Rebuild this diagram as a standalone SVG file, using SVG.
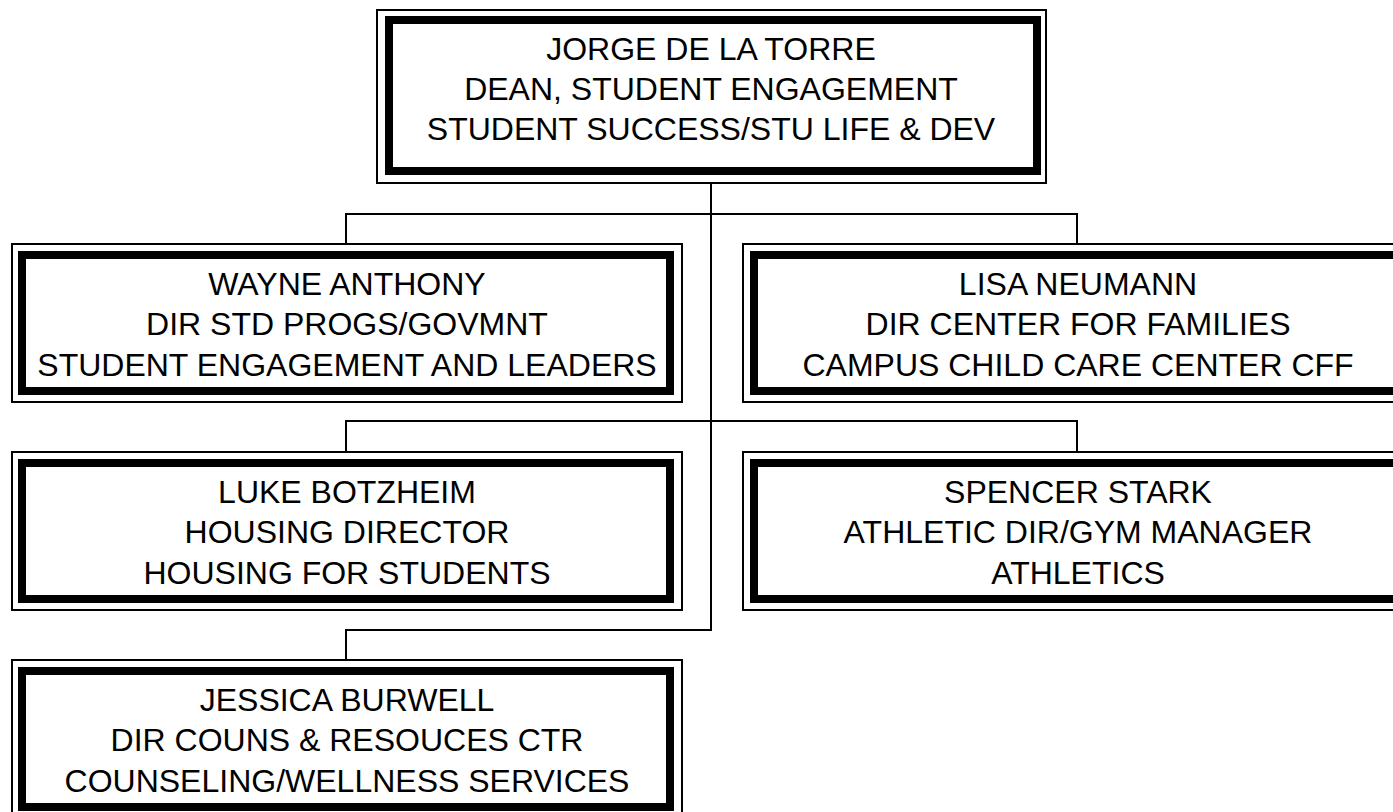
<svg xmlns="http://www.w3.org/2000/svg" width="1393" height="812" viewBox="0 0 1393 812">
<style>
.bg{fill:#ffffff}
.outer{fill:#ffffff;stroke:#000;stroke-width:2}
.inner{fill:none;stroke:#000;stroke-width:8}
.conn{fill:none;stroke:#000;stroke-width:2}
text{font-family:"Liberation Sans",Arial,sans-serif;font-size:32px;fill:#000;text-anchor:middle}
</style>
<rect class="bg" x="0" y="0" width="1393" height="812"/>
<g id="connectors">
<path class="conn" d="M346 244 V214 H1077 V244"/>
<path class="conn" d="M346 452 V421 H1077 V452"/>
<path class="conn" d="M711 183 V630 H346 V660"/>
</g>
<g id="node-torre">
<rect class="outer" x="377" y="10" width="669" height="173"/>
<rect class="inner" x="389" y="20" width="648" height="151"/>
<text x="711" y="59.5">JORGE DE LA TORRE</text>
<text x="711" y="100">DEAN, STUDENT ENGAGEMENT</text>
<text x="711" y="140">STUDENT SUCCESS/STU LIFE &amp; DEV</text>
</g>
<g id="node-anthony">
<rect class="outer" x="12" y="244" width="670" height="158"/>
<rect class="inner" x="22" y="255" width="648" height="136"/>
<text x="347" y="294.5">WAYNE ANTHONY</text>
<text x="347" y="335">DIR STD PROGS/GOVMNT</text>
<text x="347" y="375.5">STUDENT ENGAGEMENT AND LEADERS</text>
</g>
<g id="node-neumann">
<rect class="outer" x="743" y="244" width="670" height="158"/>
<rect class="inner" x="754" y="255" width="648" height="136"/>
<text x="1078" y="294.5">LISA NEUMANN</text>
<text x="1078" y="335">DIR CENTER FOR FAMILIES</text>
<text x="1078" y="375.5">CAMPUS CHILD CARE CENTER CFF</text>
</g>
<g id="node-botzheim">
<rect class="outer" x="12" y="452" width="670" height="158"/>
<rect class="inner" x="22" y="463" width="648" height="136"/>
<text x="347" y="502.5">LUKE BOTZHEIM</text>
<text x="347" y="543">HOUSING DIRECTOR</text>
<text x="347" y="583.5">HOUSING FOR STUDENTS</text>
</g>
<g id="node-stark">
<rect class="outer" x="743" y="452" width="670" height="158"/>
<rect class="inner" x="754" y="463" width="648" height="136"/>
<text x="1078" y="502.5">SPENCER STARK</text>
<text x="1078" y="543">ATHLETIC DIR/GYM MANAGER</text>
<text x="1078" y="583.5">ATHLETICS</text>
</g>
<g id="node-burwell">
<rect class="outer" x="12" y="660" width="670" height="158"/>
<rect class="inner" x="22" y="671" width="648" height="136"/>
<text x="347" y="710.5">JESSICA BURWELL</text>
<text x="347" y="751">DIR COUNS &amp; RESOUCES CTR</text>
<text x="347" y="791.5">COUNSELING/WELLNESS SERVICES</text>
</g>
</svg>
